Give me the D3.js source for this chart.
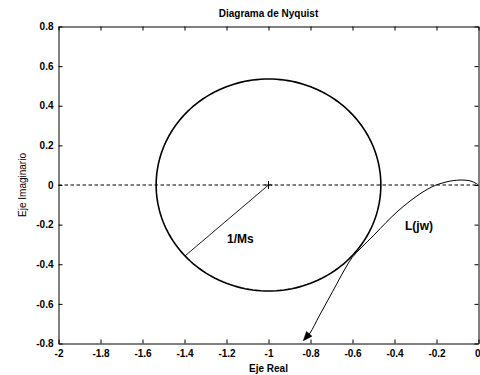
<!DOCTYPE html>
<html>
<head>
<meta charset="utf-8">
<script src="https://cdn.jsdelivr.net/npm/d3@7"></script>
<style>
  html, body { margin: 0; padding: 0; background: #fff; }
  svg { display: block; }
  text { font-family: "Liberation Sans", Arial, Helvetica, sans-serif; fill: #000; }
</style>
</head>
<body>
<svg id="chart" width="480" height="375"></svg>
<script>
// Axis ticks and labels
const xTickValues = [-2, -1.8, -1.6, -1.4, -1.2, -1, -0.8, -0.6, -0.4, -0.2, 0];
const xTickLabels = ["-2", "-1.8", "-1.6", "-1.4", "-1.2", "-1", "-0.8", "-0.6", "-0.4", "-0.2", "0"];
const yTickValues = [-0.8, -0.6, -0.4, -0.2, 0, 0.2, 0.4, 0.6, 0.8];
const yTickLabels = ["-0.8", "-0.6", "-0.4", "-0.2", "0", "0.2", "0.4", "0.6", "0.8"];

// Open-loop frequency response L(jw): real and imaginary parts
const lReal = [0.0, -0.031, -0.06, -0.088, -0.121, -0.155, -0.188, -0.221, -0.269, -0.326, -0.383, -0.44, -0.498, -0.555,
               -0.602, -0.636, -0.674, -0.717, -0.76, -0.802, -0.828];
const lImag = [0.0, 0.018, 0.024, 0.025, 0.022, 0.015, 0.005, -0.009, -0.038, -0.081, -0.131, -0.189, -0.253, -0.313,
               -0.366, -0.424, -0.497, -0.581, -0.664, -0.747, -0.778];

// Sensitivity circle: centre at -1, radius 1/Ms
const msCenter = [-1, 0];
const msRadius = 0.535;
const radiusAngleDeg = 222;

const svg = d3.select("#chart");
const plotLeft = 58.5, plotRight = 478.5, plotTop = 26.5, plotBottom = 343.5;

const x = d3.scaleLinear().domain([-2, 0]).range([plotLeft, plotRight]);
const y = d3.scaleLinear().domain([-0.8, 0.8]).range([plotBottom, plotTop]);

// Axes with inward ticks (box style)
const tickLen = 4;
const gx = svg.append("g").attr("transform", `translate(0,${plotBottom})`)
  .call(d3.axisBottom(x).tickValues(xTickValues)
    .tickFormat((d, i) => xTickLabels[i]).tickSizeInner(-tickLen).tickSizeOuter(0).tickPadding(6));
const gxTop = svg.append("g").attr("transform", `translate(0,${plotTop})`)
  .call(d3.axisTop(x).tickValues(xTickValues).tickFormat("").tickSizeInner(-tickLen).tickSizeOuter(0));
const gy = svg.append("g").attr("transform", `translate(${plotLeft},0)`)
  .call(d3.axisLeft(y).tickValues(yTickValues)
    .tickFormat((d, i) => yTickLabels[i]).tickSizeInner(-tickLen).tickSizeOuter(0).tickPadding(5));
const gyRight = svg.append("g").attr("transform", `translate(${plotRight},0)`)
  .call(d3.axisRight(y).tickValues(yTickValues).tickFormat("").tickSizeInner(-tickLen).tickSizeOuter(0));

[gx, gxTop, gy, gyRight].forEach(g => {
  g.selectAll("path.domain").attr("stroke", "#000").attr("stroke-width", 1);
  g.selectAll(".tick line").attr("stroke", "#000");
  g.selectAll("text").style("font-family", "'Liberation Sans', Arial, sans-serif")
    .style("font-size", "10px").style("font-weight", "bold").attr("fill", "#000");
});
// keep the last x label inside the canvas edge
gx.selectAll(".tick text").filter(d => d === 0).attr("text-anchor", "end").attr("dx", "1.5");

// Real axis reference (dashed)
svg.append("line")
  .attr("x1", x(-2)).attr("x2", x(0))
  .attr("y1", y(0)).attr("y2", y(0))
  .attr("stroke", "#000").attr("stroke-width", 1)
  .attr("stroke-dasharray", "3.5,2.5");

// 1/Ms circle
const angles = d3.range(0, 361, 2);
const circleLine = d3.line()
  .x(a => x(msCenter[0] + msRadius * Math.cos(a * Math.PI / 180)))
  .y(a => y(msCenter[1] + msRadius * Math.sin(a * Math.PI / 180)));
svg.append("path").attr("d", circleLine(angles))
  .attr("fill", "none").attr("stroke", "#000").attr("stroke-width", 1.6);

// Radius marker
const ra = radiusAngleDeg * Math.PI / 180;
svg.append("line")
  .attr("x1", x(msCenter[0])).attr("y1", y(msCenter[1]))
  .attr("x2", x(msCenter[0] + msRadius * Math.cos(ra)))
  .attr("y2", y(msCenter[1] + msRadius * Math.sin(ra)))
  .attr("stroke", "#000").attr("stroke-width", 0.9);

// Centre "+" marker
const cx = x(msCenter[0]), cy = y(msCenter[1]);
svg.append("path")
  .attr("d", `M${cx - 4},${cy}H${cx + 4}M${cx},${cy - 4}V${cy + 4}`)
  .attr("stroke", "#000").attr("stroke-width", 1);

// L(jw) curve
const lPoints = lReal.map((r, i) => [r, lImag[i]]);
const lLine = d3.line().x(d => x(d[0])).y(d => y(d[1])).curve(d3.curveCatmullRom.alpha(0.5));
svg.append("path").attr("d", lLine(lPoints))
  .attr("fill", "none").attr("stroke", "#000").attr("stroke-width", 1);

// Direction arrow at the end of the curve
const pEnd = lPoints[lPoints.length - 1], pPrev = lPoints[lPoints.length - 2];
const ex = x(pEnd[0]), ey = y(pEnd[1]);
const dx = ex - x(pPrev[0]), dy = ey - y(pPrev[1]);
const len = Math.hypot(dx, dy), ux = dx / len, uy = dy / len;
const aLen = 9, aHalf = 3.6;
const tipX = ex + ux * 2, tipY = ey + uy * 2;
const bx = tipX - ux * aLen, by = tipY - uy * aLen;
svg.append("path")
  .attr("d", `M${tipX},${tipY}L${bx - uy * aHalf},${by + ux * aHalf}L${bx + uy * aHalf},${by - ux * aHalf}Z`)
  .attr("fill", "#000").attr("stroke", "#000").attr("stroke-width", 0.6);

// Annotations
svg.append("text").attr("x", 227).attr("y", 242.5)
  .style("font-size", "12px").style("font-weight", "bold").text("1/Ms");
svg.append("text").attr("x", 405).attr("y", 230)
  .style("font-size", "12px").style("font-weight", "bold").text("L(jw)");

// Title and axis labels
svg.append("text").attr("x", (plotLeft + plotRight) / 2).attr("y", 17)
  .attr("text-anchor", "middle").style("font-size", "10px").style("font-weight", "bold")
  .text("Diagrama de Nyquist");
svg.append("text").attr("x", (plotLeft + plotRight) / 2).attr("y", 371.5)
  .attr("text-anchor", "middle").style("font-size", "10px").style("font-weight", "bold")
  .text("Eje Real");
svg.append("text")
  .attr("transform", `translate(25.5,${(plotTop + plotBottom) / 2}) rotate(-90)`)
  .attr("text-anchor", "middle").style("font-size", "10px")
  .text("Eje Imaginario");
</script>
</body>
</html>
